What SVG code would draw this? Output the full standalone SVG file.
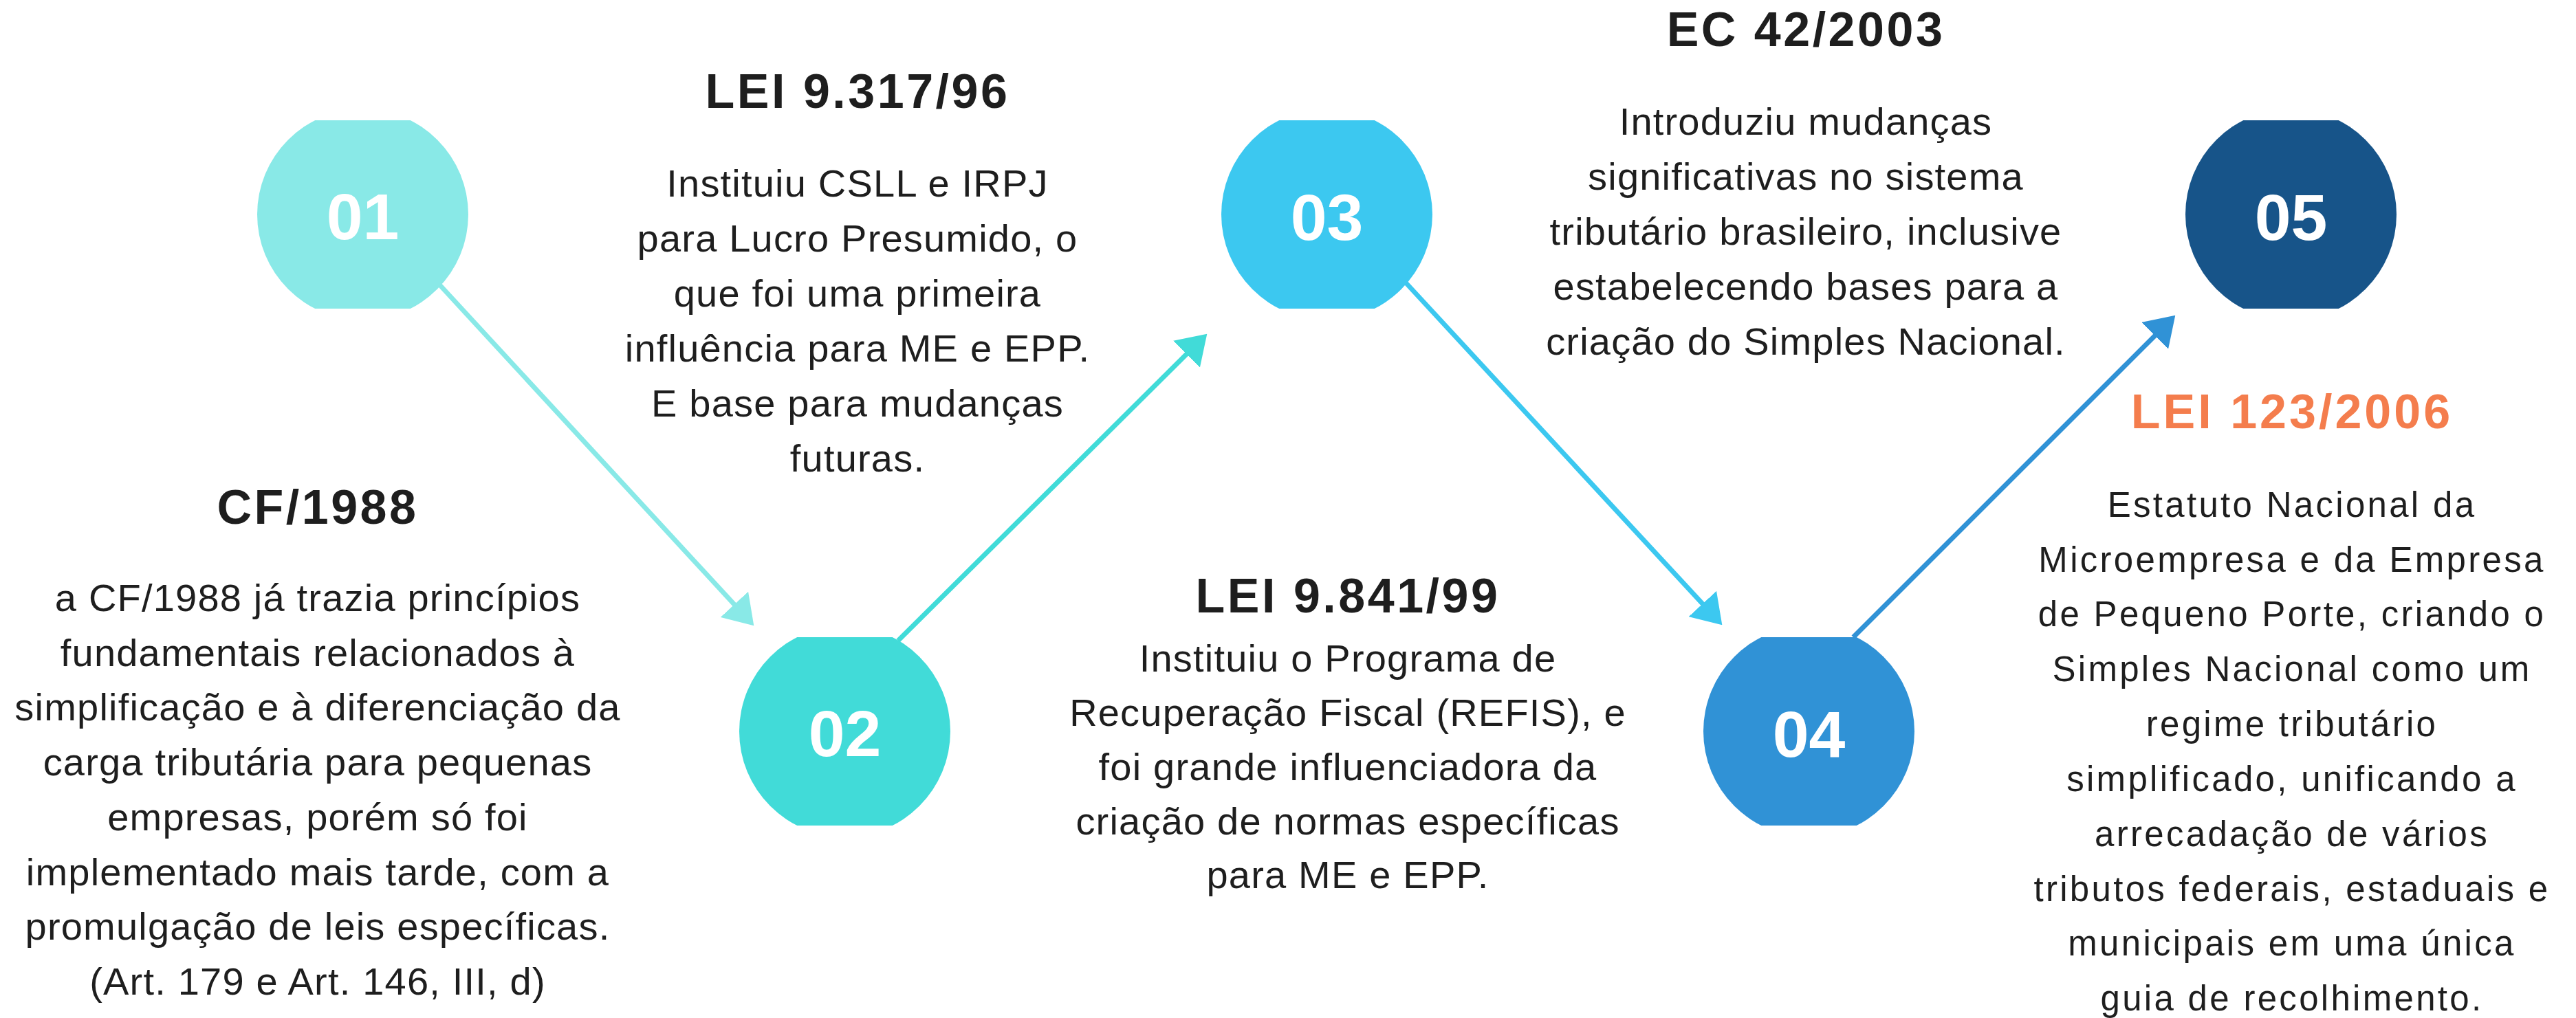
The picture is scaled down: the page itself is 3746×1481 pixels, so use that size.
<svg xmlns="http://www.w3.org/2000/svg" width="3746" height="1481" viewBox="0 0 3746 1481">
  <style>
    .num { font-family: "Liberation Sans", Arial, sans-serif; font-weight: bold; font-size: 95px; fill: #ffffff; text-anchor: middle; }
    .title { font-family: "Liberation Sans", Arial, sans-serif; font-weight: bold; font-size: 70px; fill: #1e1e1e; text-anchor: middle; letter-spacing: 3.5px; }
    .title-o { fill: #F47D4D; letter-spacing: 4px; }
    .body { font-family: "Liberation Sans", Arial, sans-serif; font-size: 56px; fill: #1e1e1e; text-anchor: middle; letter-spacing: 1.2px; }
    .wide { font-size: 51px; letter-spacing: 3.3px; }
    .conn { fill: none; stroke-width: 7; }
  </style>
  <defs>
    <clipPath id="cut" clipPathUnits="objectBoundingBox">
      <rect x="0" y="0.0537" width="1" height="0.8925"/>
    </clipPath>
    <marker id="ah1" markerUnits="userSpaceOnUse" markerWidth="42" markerHeight="55" refX="1" refY="27.5" orient="auto" viewBox="0 0 42 55">
      <path d="M0,0 L42,27.5 L0,55 Z" fill="#89E9E7"/>
    </marker>
    <marker id="ah2" markerUnits="userSpaceOnUse" markerWidth="42" markerHeight="55" refX="1" refY="27.5" orient="auto" viewBox="0 0 42 55">
      <path d="M0,0 L42,27.5 L0,55 Z" fill="#41DBD8"/>
    </marker>
    <marker id="ah3" markerUnits="userSpaceOnUse" markerWidth="42" markerHeight="55" refX="1" refY="27.5" orient="auto" viewBox="0 0 42 55">
      <path d="M0,0 L42,27.5 L0,55 Z" fill="#3CC8F0"/>
    </marker>
    <marker id="ah4" markerUnits="userSpaceOnUse" markerWidth="42" markerHeight="55" refX="1" refY="27.5" orient="auto" viewBox="0 0 42 55">
      <path d="M0,0 L42,27.5 L0,55 Z" fill="#3092D6"/>
    </marker>
  </defs>
  <rect x="0" y="0" width="3746" height="1481" fill="#ffffff"/>

  <g id="connectors">
    <line class="conn" x1="639" y1="414" x2="1068.5" y2="880.1" stroke="#89E9E7" marker-end="url(#ah1)"/>
    <line class="conn" x1="1306" y1="932" x2="1726.2" y2="514.6" stroke="#41DBD8" marker-end="url(#ah2)"/>
    <line class="conn" x1="2044" y1="411" x2="2476.5" y2="879.2" stroke="#3CC8F0" marker-end="url(#ah3)"/>
    <line class="conn" x1="2695" y1="927" x2="3134.3" y2="487.7" stroke="#3092D6" marker-end="url(#ah4)"/>
  </g>

  <g id="node-01">
    <circle cx="527.5" cy="312" r="153.5" fill="#89E9E7" clip-path="url(#cut)"/>
    <text class="num" x="527.5" y="348">01</text>
  </g>
  <g id="node-02">
    <circle cx="1228.5" cy="1064" r="153.5" fill="#41DBD8" clip-path="url(#cut)"/>
    <text class="num" x="1228.5" y="1100">02</text>
  </g>
  <g id="node-03">
    <circle cx="1929.5" cy="312" r="153.5" fill="#3CC8F0" clip-path="url(#cut)"/>
    <text class="num" x="1929.5" y="349">03</text>
  </g>
  <g id="node-04">
    <circle cx="2630.5" cy="1064" r="153.5" fill="#3092D6" clip-path="url(#cut)"/>
    <text class="num" x="2630.5" y="1101">04</text>
  </g>
  <g id="node-05">
    <circle cx="3331.5" cy="312" r="153.5" fill="#175489" clip-path="url(#cut)"/>
    <text class="num" x="3331.5" y="349">05</text>
  </g>

  <g id="text-cf1988">
    <text class="title" x="462" y="762">CF/1988</text>
    <text class="body" x="462" y="889">a CF/1988 já trazia princípios</text>
    <text class="body" x="462" y="969">fundamentais relacionados à</text>
    <text class="body" x="462" y="1048">simplificação e à diferenciação da</text>
    <text class="body" x="462" y="1128">carga tributária para pequenas</text>
    <text class="body" x="462" y="1208">empresas, porém só foi</text>
    <text class="body" x="462" y="1288">implementado mais tarde, com a</text>
    <text class="body" x="462" y="1367">promulgação de leis específicas.</text>
    <text class="body" x="462" y="1447">(Art. 179 e Art. 146, III, d)</text>
  </g>

  <g id="text-lei9317">
    <text class="title" x="1247" y="157">LEI 9.317/96</text>
    <text class="body" x="1247" y="286">Instituiu CSLL e IRPJ</text>
    <text class="body" x="1247" y="366">para Lucro Presumido, o</text>
    <text class="body" x="1247" y="446">que foi uma primeira</text>
    <text class="body" x="1247" y="526">influência para ME e EPP.</text>
    <text class="body" x="1247" y="606">E base para mudanças</text>
    <text class="body" x="1247" y="686">futuras.</text>
  </g>

  <g id="text-lei9841">
    <text class="title" x="1960" y="891">LEI 9.841/99</text>
    <text class="body" x="1960" y="977">Instituiu o Programa de</text>
    <text class="body" x="1960" y="1056">Recuperação Fiscal (REFIS), e</text>
    <text class="body" x="1960" y="1135">foi grande influenciadora da</text>
    <text class="body" x="1960" y="1214">criação de normas específicas</text>
    <text class="body" x="1960" y="1292">para ME e EPP.</text>
  </g>

  <g id="text-ec42">
    <text class="title" x="2626" y="67">EC 42/2003</text>
    <text class="body" x="2626" y="196">Introduziu mudanças</text>
    <text class="body" x="2626" y="276">significativas no sistema</text>
    <text class="body" x="2626" y="356">tributário brasileiro, inclusive</text>
    <text class="body" x="2626" y="436">estabelecendo bases para a</text>
    <text class="body" x="2626" y="516">criação do Simples Nacional.</text>
  </g>

  <g id="text-lei123">
    <text class="title title-o" x="3333" y="623">LEI 123/2006</text>
    <text class="body wide" x="3333" y="752">Estatuto Nacional da</text>
    <text class="body wide" x="3333" y="832">Microempresa e da Empresa</text>
    <text class="body wide" x="3333" y="911">de Pequeno Porte, criando o</text>
    <text class="body wide" x="3333" y="991">Simples Nacional como um</text>
    <text class="body wide" x="3333" y="1071">regime tributário</text>
    <text class="body wide" x="3333" y="1151">simplificado, unificando a</text>
    <text class="body wide" x="3333" y="1231">arrecadação de vários</text>
    <text class="body wide" x="3333" y="1311">tributos federais, estaduais e</text>
    <text class="body wide" x="3333" y="1390">municipais em uma única</text>
    <text class="body wide" x="3333" y="1470">guia de recolhimento.</text>
  </g>
</svg>
